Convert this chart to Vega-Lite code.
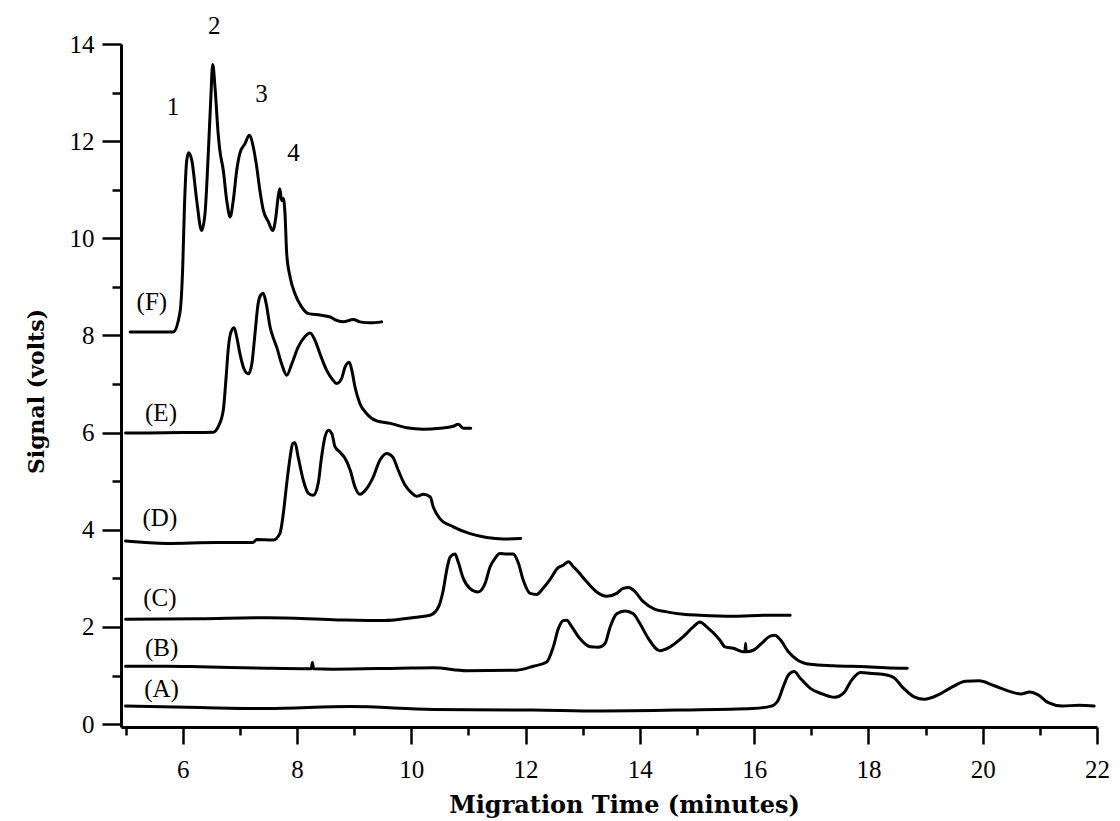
{
 "$schema": "https://vega.github.io/schema/vega-lite/v6.json",
 "width": 976,
 "height": 683,
 "autosize": {"type": "none"},
 "padding": {"left": 121, "top": 44, "right": 23, "bottom": 94},
 "background": "white",
 "config": {"view": {"stroke": null}, "font": "Liberation Serif"},
 "datasets": {
  "traces": [
   {"s":"F","t":5.08,"v":8.07},{"s":"F","t":5.5,"v":8.07},{"s":"F","t":5.83,"v":8.07},{"s":"F","t":5.95,"v":8.46},{"s":"F","t":6.0,"v":9.41},{"s":"F","t":6.03,"v":10.64},{"s":"F","t":6.07,"v":11.6},{"s":"F","t":6.105,"v":11.76},{"s":"F","t":6.16,"v":11.6},{"s":"F","t":6.245,"v":10.78},{"s":"F","t":6.33,"v":10.16},{"s":"F","t":6.39,"v":10.51},{"s":"F","t":6.45,"v":11.81},{"s":"F","t":6.49,"v":12.84},{"s":"F","t":6.525,"v":13.58},{"s":"F","t":6.565,"v":13.11},{"s":"F","t":6.62,"v":12.16},{"s":"F","t":6.65,"v":11.81},{"s":"F","t":6.71,"v":11.4},{"s":"F","t":6.77,"v":10.78},{"s":"F","t":6.83,"v":10.44},{"s":"F","t":6.885,"v":10.78},{"s":"F","t":6.945,"v":11.4},{"s":"F","t":7.0,"v":11.75},{"s":"F","t":7.09,"v":11.95},{"s":"F","t":7.165,"v":12.12},{"s":"F","t":7.235,"v":11.88},{"s":"F","t":7.295,"v":11.47},{"s":"F","t":7.35,"v":10.99},{"s":"F","t":7.41,"v":10.58},{"s":"F","t":7.5,"v":10.34},{"s":"F","t":7.575,"v":10.16},{"s":"F","t":7.63,"v":10.44},{"s":"F","t":7.67,"v":10.85},{"s":"F","t":7.7,"v":11.02},{"s":"F","t":7.73,"v":10.78},{"s":"F","t":7.76,"v":10.82},{"s":"F","t":7.79,"v":10.51},{"s":"F","t":7.82,"v":9.68},{"s":"F","t":7.88,"v":9.2},{"s":"F","t":7.965,"v":8.86},{"s":"F","t":8.08,"v":8.59},{"s":"F","t":8.2,"v":8.45},{"s":"F","t":8.4,"v":8.42},{"s":"F","t":8.58,"v":8.38},{"s":"F","t":8.695,"v":8.31},{"s":"F","t":8.81,"v":8.28},{"s":"F","t":8.985,"v":8.33},{"s":"F","t":9.1,"v":8.28},{"s":"F","t":9.28,"v":8.26},{"s":"F","t":9.48,"v":8.28},
   {"s":"E","t":5.0,"v":5.99},{"s":"E","t":6.0,"v":6.0},{"s":"E","t":6.535,"v":6.01},{"s":"E","t":6.62,"v":6.12},{"s":"E","t":6.71,"v":6.46},{"s":"E","t":6.76,"v":7.15},{"s":"E","t":6.8,"v":7.76},{"s":"E","t":6.845,"v":8.07},{"s":"E","t":6.9,"v":8.16},{"s":"E","t":6.945,"v":7.97},{"s":"E","t":7.0,"v":7.63},{"s":"E","t":7.07,"v":7.32},{"s":"E","t":7.15,"v":7.21},{"s":"E","t":7.21,"v":7.42},{"s":"E","t":7.265,"v":8.04},{"s":"E","t":7.32,"v":8.66},{"s":"E","t":7.365,"v":8.83},{"s":"E","t":7.41,"v":8.87},{"s":"E","t":7.46,"v":8.66},{"s":"E","t":7.53,"v":8.17},{"s":"E","t":7.585,"v":7.95},{"s":"E","t":7.645,"v":7.76},{"s":"E","t":7.73,"v":7.42},{"s":"E","t":7.82,"v":7.18},{"s":"E","t":7.91,"v":7.42},{"s":"E","t":8.02,"v":7.76},{"s":"E","t":8.14,"v":7.98},{"s":"E","t":8.23,"v":8.05},{"s":"E","t":8.315,"v":7.9},{"s":"E","t":8.4,"v":7.63},{"s":"E","t":8.52,"v":7.28},{"s":"E","t":8.61,"v":7.11},{"s":"E","t":8.695,"v":7.01},{"s":"E","t":8.78,"v":7.11},{"s":"E","t":8.84,"v":7.35},{"s":"E","t":8.915,"v":7.45},{"s":"E","t":8.96,"v":7.28},{"s":"E","t":9.015,"v":6.94},{"s":"E","t":9.1,"v":6.6},{"s":"E","t":9.22,"v":6.39},{"s":"E","t":9.395,"v":6.24},{"s":"E","t":9.63,"v":6.19},{"s":"E","t":9.92,"v":6.1},{"s":"E","t":10.21,"v":6.07},{"s":"E","t":10.5,"v":6.09},{"s":"E","t":10.735,"v":6.13},{"s":"E","t":10.82,"v":6.17},{"s":"E","t":10.91,"v":6.09},{"s":"E","t":11.04,"v":6.09},
   {"s":"D","t":5.0,"v":3.77},{"s":"D","t":5.72,"v":3.72},{"s":"D","t":6.595,"v":3.74},{"s":"D","t":7.235,"v":3.74},{"s":"D","t":7.295,"v":3.8},{"s":"D","t":7.585,"v":3.79},{"s":"D","t":7.7,"v":3.92},{"s":"D","t":7.76,"v":4.33},{"s":"D","t":7.82,"v":4.95},{"s":"D","t":7.88,"v":5.5},{"s":"D","t":7.925,"v":5.78},{"s":"D","t":7.965,"v":5.79},{"s":"D","t":8.02,"v":5.5},{"s":"D","t":8.11,"v":5.02},{"s":"D","t":8.2,"v":4.75},{"s":"D","t":8.285,"v":4.71},{"s":"D","t":8.37,"v":4.95},{"s":"D","t":8.43,"v":5.5},{"s":"D","t":8.49,"v":5.91},{"s":"D","t":8.55,"v":6.05},{"s":"D","t":8.61,"v":5.98},{"s":"D","t":8.665,"v":5.71},{"s":"D","t":8.75,"v":5.6},{"s":"D","t":8.84,"v":5.47},{"s":"D","t":8.93,"v":5.23},{"s":"D","t":9.015,"v":4.88},{"s":"D","t":9.1,"v":4.73},{"s":"D","t":9.22,"v":4.85},{"s":"D","t":9.335,"v":5.09},{"s":"D","t":9.45,"v":5.43},{"s":"D","t":9.57,"v":5.57},{"s":"D","t":9.675,"v":5.5},{"s":"D","t":9.77,"v":5.23},{"s":"D","t":9.89,"v":4.92},{"s":"D","t":10.005,"v":4.76},{"s":"D","t":10.095,"v":4.69},{"s":"D","t":10.21,"v":4.73},{"s":"D","t":10.33,"v":4.68},{"s":"D","t":10.385,"v":4.47},{"s":"D","t":10.5,"v":4.23},{"s":"D","t":10.735,"v":4.06},{"s":"D","t":11.03,"v":3.92},{"s":"D","t":11.32,"v":3.84},{"s":"D","t":11.61,"v":3.81},{"s":"D","t":11.915,"v":3.82},
   {"s":"C","t":5.0,"v":2.16},{"s":"C","t":6.3,"v":2.17},{"s":"C","t":7.47,"v":2.19},{"s":"C","t":8.635,"v":2.15},{"s":"C","t":9.51,"v":2.13},{"s":"C","t":10.095,"v":2.2},{"s":"C","t":10.33,"v":2.24},{"s":"C","t":10.475,"v":2.41},{"s":"C","t":10.56,"v":2.76},{"s":"C","t":10.62,"v":3.17},{"s":"C","t":10.68,"v":3.44},{"s":"C","t":10.765,"v":3.5},{"s":"C","t":10.82,"v":3.34},{"s":"C","t":10.91,"v":3.0},{"s":"C","t":11.03,"v":2.79},{"s":"C","t":11.17,"v":2.72},{"s":"C","t":11.29,"v":2.89},{"s":"C","t":11.38,"v":3.24},{"s":"C","t":11.465,"v":3.41},{"s":"C","t":11.55,"v":3.51},{"s":"C","t":11.67,"v":3.5},{"s":"C","t":11.785,"v":3.5},{"s":"C","t":11.875,"v":3.31},{"s":"C","t":11.96,"v":2.96},{"s":"C","t":12.08,"v":2.69},{"s":"C","t":12.195,"v":2.67},{"s":"C","t":12.31,"v":2.8},{"s":"C","t":12.43,"v":2.98},{"s":"C","t":12.57,"v":3.22},{"s":"C","t":12.66,"v":3.27},{"s":"C","t":12.75,"v":3.34},{"s":"C","t":12.835,"v":3.24},{"s":"C","t":12.895,"v":3.17},{"s":"C","t":13.07,"v":2.93},{"s":"C","t":13.245,"v":2.72},{"s":"C","t":13.42,"v":2.63},{"s":"C","t":13.595,"v":2.69},{"s":"C","t":13.7,"v":2.79},{"s":"C","t":13.8,"v":2.81},{"s":"C","t":13.885,"v":2.76},{"s":"C","t":14.06,"v":2.52},{"s":"C","t":14.265,"v":2.36},{"s":"C","t":14.47,"v":2.31},{"s":"C","t":14.76,"v":2.26},{"s":"C","t":15.05,"v":2.24},{"s":"C","t":15.635,"v":2.22},{"s":"C","t":16.22,"v":2.24},{"s":"C","t":16.63,"v":2.24},
   {"s":"B","t":5.0,"v":1.19},{"s":"B","t":5.72,"v":1.19},{"s":"B","t":6.3,"v":1.18},{"s":"B","t":7.47,"v":1.15},{"s":"B","t":8.25,"v":1.14},{"s":"B","t":8.27,"v":1.27},{"s":"B","t":8.29,"v":1.14},{"s":"B","t":8.635,"v":1.13},{"s":"B","t":9.8,"v":1.15},{"s":"B","t":10.385,"v":1.16},{"s":"B","t":10.97,"v":1.1},{"s":"B","t":11.845,"v":1.11},{"s":"B","t":12.135,"v":1.19},{"s":"B","t":12.37,"v":1.28},{"s":"B","t":12.485,"v":1.59},{"s":"B","t":12.575,"v":1.97},{"s":"B","t":12.66,"v":2.13},{"s":"B","t":12.72,"v":2.14},{"s":"B","t":12.81,"v":2.0},{"s":"B","t":12.95,"v":1.76},{"s":"B","t":13.13,"v":1.59},{"s":"B","t":13.27,"v":1.58},{"s":"B","t":13.39,"v":1.66},{"s":"B","t":13.48,"v":2.0},{"s":"B","t":13.595,"v":2.27},{"s":"B","t":13.74,"v":2.33},{"s":"B","t":13.885,"v":2.27},{"s":"B","t":14.0,"v":2.07},{"s":"B","t":14.15,"v":1.76},{"s":"B","t":14.35,"v":1.51},{"s":"B","t":14.53,"v":1.59},{"s":"B","t":14.76,"v":1.8},{"s":"B","t":14.935,"v":2.0},{"s":"B","t":15.05,"v":2.1},{"s":"B","t":15.17,"v":2.0},{"s":"B","t":15.4,"v":1.73},{"s":"B","t":15.49,"v":1.59},{"s":"B","t":15.635,"v":1.56},{"s":"B","t":15.81,"v":1.49},{"s":"B","t":15.84,"v":1.49},{"s":"B","t":15.85,"v":1.66},{"s":"B","t":15.86,"v":1.49},{"s":"B","t":15.985,"v":1.52},{"s":"B","t":16.13,"v":1.66},{"s":"B","t":16.28,"v":1.81},{"s":"B","t":16.365,"v":1.83},{"s":"B","t":16.455,"v":1.74},{"s":"B","t":16.6,"v":1.49},{"s":"B","t":16.745,"v":1.33},{"s":"B","t":16.98,"v":1.23},{"s":"B","t":17.385,"v":1.2},{"s":"B","t":17.97,"v":1.18},{"s":"B","t":18.3,"v":1.16},{"s":"B","t":18.68,"v":1.15},
   {"s":"A","t":5.0,"v":0.37},{"s":"A","t":6.3,"v":0.34},{"s":"A","t":7.47,"v":0.32},{"s":"A","t":8.93,"v":0.36},{"s":"A","t":10.385,"v":0.3},{"s":"A","t":12.135,"v":0.29},{"s":"A","t":13.3,"v":0.27},{"s":"A","t":14.76,"v":0.29},{"s":"A","t":15.97,"v":0.32},{"s":"A","t":16.3,"v":0.37},{"s":"A","t":16.42,"v":0.49},{"s":"A","t":16.51,"v":0.77},{"s":"A","t":16.6,"v":1.01},{"s":"A","t":16.7,"v":1.08},{"s":"A","t":16.81,"v":0.94},{"s":"A","t":16.99,"v":0.73},{"s":"A","t":17.17,"v":0.63},{"s":"A","t":17.41,"v":0.55},{"s":"A","t":17.56,"v":0.63},{"s":"A","t":17.71,"v":0.91},{"s":"A","t":17.86,"v":1.06},{"s":"A","t":18.08,"v":1.04},{"s":"A","t":18.32,"v":1.01},{"s":"A","t":18.44,"v":0.96},{"s":"A","t":18.62,"v":0.73},{"s":"A","t":18.8,"v":0.56},{"s":"A","t":18.98,"v":0.51},{"s":"A","t":19.22,"v":0.6},{"s":"A","t":19.46,"v":0.76},{"s":"A","t":19.7,"v":0.88},{"s":"A","t":19.94,"v":0.89},{"s":"A","t":20.18,"v":0.8},{"s":"A","t":20.43,"v":0.69},{"s":"A","t":20.67,"v":0.62},{"s":"A","t":20.82,"v":0.66},{"s":"A","t":20.97,"v":0.6},{"s":"A","t":21.15,"v":0.44},{"s":"A","t":21.39,"v":0.37},{"s":"A","t":21.69,"v":0.39},{"s":"A","t":21.95,"v":0.37}
  ],
  "labels": [
   {"label":"(F)","t":5.46,"v":8.68},{"label":"(E)","t":5.62,"v":6.41},{"label":"(D)","t":5.6,"v":4.25},{"label":"(C)","t":5.6,"v":2.6},{"label":"(B)","t":5.63,"v":1.56},{"label":"(A)","t":5.63,"v":0.73},
   {"label":"1","t":5.83,"v":12.7},{"label":"2","t":6.55,"v":14.38},{"label":"3","t":7.38,"v":12.98},{"label":"4","t":7.94,"v":11.76}
  ]
 },
 "layer": [
  {
   "data": {"name": "traces"},
   "mark": {"type": "line", "color": "black", "strokeWidth": 3, "strokeJoin": "round", "strokeCap": "round", "interpolate": "monotone"},
   "encoding": {
    "x": {"field": "t", "type": "quantitative",
     "scale": {"domain": [4.92, 22], "nice": false, "zero": false},
     "axis": {"title": "Migration Time (minutes)",
      "values": [5,5.5,6,6.5,7,7.5,8,8.5,9,9.5,10,10.5,11,11.5,12,12.5,13,13.5,14,14.5,15,15.5,16,16.5,17,17.5,18,18.5,19,19.5,20,20.5,21,21.5,22],
      "labelExpr": "datum.value % 2 === 0 ? format(datum.value, 'd') : ''",
      "grid": false, "domainColor": "black", "domainWidth": 3,
      "tickColor": "black", "tickWidth": 2.5,
      "tickSize": {"condition": {"test": "datum.value % 2 === 0", "value": 17}, "value": 8},
      "labelFont": "Liberation Serif", "labelFontSize": 25, "labelColor": "black",
      "labelBaseline": "alphabetic", "labelPadding": 33, "labelFlush": false, "labelOverlap": false,
      "titleFont": "DejaVu Serif", "titleFontSize": 24, "titleFontWeight": "bold", "titleColor": "black",
      "titleX": 503, "titleY": 85, "titleAlign": "center", "titleBaseline": "alphabetic"}},
    "y": {"field": "v", "type": "quantitative",
     "scale": {"domain": [-0.06, 14], "nice": false, "zero": false},
     "axis": {"title": "Signal (volts)",
      "values": [0,0.5,1,1.5,2,2.5,3,3.5,4,4.5,5,5.5,6,6.5,7,7.5,8,8.5,9,9.5,10,10.5,11,11.5,12,12.5,13,13.5,14],
      "labelExpr": "datum.value % 2 === 0 ? format(datum.value, 'd') : ''",
      "grid": false, "domainColor": "black", "domainWidth": 3,
      "tickColor": "black", "tickWidth": 2.5,
      "tickSize": {"condition": {"test": "datum.value % 2 === 0", "value": 19}, "value": 9},
      "labelFont": "Liberation Serif", "labelFontSize": 25, "labelColor": "black",
      "labelPadding": 8, "labelFlush": false, "labelOverlap": false,
      "titleFont": "DejaVu Serif", "titleFontSize": 22, "titleFontWeight": "bold", "titleColor": "black",
      "titleX": -78, "titleY": 347, "titleAngle": -90, "titleAlign": "center", "titleBaseline": "alphabetic"}},
    "detail": {"field": "s", "type": "nominal"}
   }
  },
  {
   "data": {"name": "labels"},
   "mark": {"type": "text", "font": "Liberation Serif", "fontSize": 25, "color": "black", "align": "center", "baseline": "middle"},
   "encoding": {
    "x": {"field": "t", "type": "quantitative"},
    "y": {"field": "v", "type": "quantitative"},
    "text": {"field": "label", "type": "nominal"}
   }
  }
 ]
}
